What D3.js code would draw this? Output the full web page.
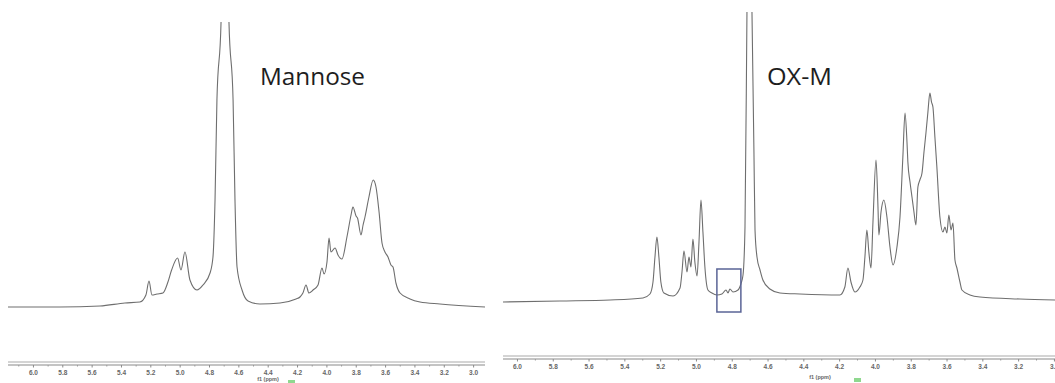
<!DOCTYPE html>
<html>
<head>
<meta charset="utf-8">
<script src="https://cdn.jsdelivr.net/npm/d3@7"></script>
<style>
  html, body { margin: 0; padding: 0; background: #fff; }
  svg { display: block; }
</style>
</head>
<body>
<svg id="chart" width="1055" height="383"></svg>
<script>
// ---- data: [ppm, relative intensity] ----
const mannoseSpectrum = [
  [6.170,0],[5.816,0],[5.543,1],[5.373,4],[5.271,5],[5.230,12],[5.209,26],[5.189,12],
  [5.155,13],[5.114,14],[5.080,25],[5.055,37],[5.014,49],[4.991,37],[4.964,55],[4.930,27],
  [4.882,17],[4.841,22],[4.793,34],[4.773,50],[4.759,107],[4.746,207],[4.718,285],[4.705,400],
  [4.691,500],[4.678,400],[4.664,285],[4.636,207],[4.623,107],[4.609,40],[4.575,17],[4.534,6],
  [4.453,3],[4.316,4],[4.207,8],[4.180,10],[4.160,14],[4.139,22],[4.119,14],[4.091,17],
  [4.057,22],[4.030,39],[4.016,33],[3.996,45],[3.982,69],[3.969,55],[3.941,59],[3.921,52],
  [3.894,48],[3.860,70],[3.832,92],[3.819,100],[3.798,91],[3.788,89],[3.764,72],[3.750,82],
  [3.737,90],[3.710,110],[3.681,127],[3.662,120],[3.641,95],[3.621,64],[3.601,55],[3.580,50],
  [3.560,42],[3.546,40],[3.526,24],[3.498,14],[3.430,8],[3.362,5],[3.226,3],[2.919,0]
];
const oxmSpectrum = [
  [6.078,0],[5.760,1],[5.480,2],[5.296,4],[5.257,8],[5.240,20],[5.229,45],[5.218,65],
  [5.207,45],[5.196,20],[5.179,9],[5.128,6],[5.089,14],[5.078,30],[5.067,51],[5.050,30],
  [5.039,45],[5.028,35],[5.017,63],[5.006,40],[4.994,26],[4.983,60],[4.972,102],[4.961,70],
  [4.950,35],[4.933,12],[4.911,9],[4.883,7],[4.855,8],[4.832,12],[4.821,9],[4.810,13],
  [4.793,10],[4.765,12],[4.749,18],[4.737,27],[4.726,75],[4.715,290],[4.704,500],[4.687,290],
  [4.676,150],[4.670,72],[4.659,45],[4.642,32],[4.626,22],[4.587,13],[4.531,9],[4.419,8],
  [4.196,7],[4.168,15],[4.151,34],[4.134,20],[4.112,10],[4.084,15],[4.067,22],[4.056,45],
  [4.045,72],[4.034,50],[4.022,34],[4.011,80],[3.994,142],[3.983,95],[3.978,67],[3.966,90],
  [3.950,102],[3.933,85],[3.916,55],[3.899,37],[3.877,55],[3.860,85],[3.844,145],[3.832,189],
  [3.821,160],[3.816,140],[3.804,120],[3.793,105],[3.782,90],[3.771,77],[3.760,115],[3.749,122],
  [3.737,129],[3.726,150],[3.715,169],[3.704,190],[3.693,209],[3.684,200],[3.676,195],[3.665,165],
  [3.654,135],[3.637,85],[3.620,70],[3.609,75],[3.598,69],[3.587,87],[3.575,72],[3.564,79],
  [3.553,42],[3.542,34],[3.525,20],[3.514,12],[3.469,7],[3.413,5],[3.190,3],[2.994,2]
];
const majorTicks = [6.0,5.8,5.6,5.4,5.2,5.0,4.8,4.6,4.4,4.2,4.0,3.8,3.6,3.4,3.2,3.0];
const minorTicks = [5.9,5.7,5.5,5.3,5.1,4.9,4.7,4.5,4.3,4.1,3.9,3.7,3.5,3.3,3.1,6.1];
const panelTitles = ["Mannose", "OX-M"];
const axisTitle = "f1 (ppm)";
const highlightBox = { ppm: [4.883, 4.749], intensity: [33, -10] };

// ---- layout ----
const svg = d3.select("#chart");
const panels = [
  { data: mannoseSpectrum, title: panelTitles[0],
    xDomain: [6.17, 2.919], xRange: [8, 485],
    yDomain: [0, 285], yRange: [307, 22], clipTop: 22,
    axisY: 365, titleX: 260, titleW: 105, f1X: 268, f1Y: 381, greenX: 288 },
  { data: oxmSpectrum, title: panelTitles[1],
    xDomain: [6.078, 2.994], xRange: [503, 1055],
    yDomain: [0, 290], yRange: [302, 12], clipTop: 12,
    axisY: 359, titleX: 767, titleW: 65, f1X: 820, f1Y: 379, greenX: 854 }
];

panels.forEach((p, i) => {
  const x = d3.scaleLinear().domain(p.xDomain).range(p.xRange);
  const y = d3.scaleLinear().domain(p.yDomain).range(p.yRange);
  const g = svg.append("g");

  g.append("clipPath").attr("id", "clip" + i)
    .append("rect")
    .attr("x", p.xRange[0] - 2).attr("y", p.clipTop)
    .attr("width", p.xRange[1] - p.xRange[0] + 4)
    .attr("height", p.axisY - p.clipTop - 8);

  const line = d3.line()
    .x(d => x(d[0])).y(d => y(d[1]))
    .curve(d3.curveMonotoneX);

  g.append("path")
    .datum(p.data.slice().sort((a, b) => b[0] - a[0]))
    .attr("clip-path", "url(#clip" + i + ")")
    .attr("fill", "none")
    .attr("stroke", "#6e6e6e")
    .attr("stroke-width", 1.1)
    .attr("d", line);

  // title
  g.append("text")
    .attr("x", p.titleX).attr("y", 85)
    .attr("textLength", p.titleW).attr("lengthAdjust", "spacingAndGlyphs")
    .style("font-family", "'Open Sans', 'Liberation Sans', sans-serif")
    .style("font-size", "23px")
    .attr("fill", "#1e1e1e")
    .text(p.title);

  // light band above the axis
  g.append("line")
    .attr("x1", p.xRange[0]).attr("x2", p.xRange[1])
    .attr("y1", p.axisY - 3).attr("y2", p.axisY - 3)
    .attr("stroke", "#d4d4d4").attr("stroke-width", 2);

  // axis (major ticks with labels)
  const axis = d3.axisBottom(x)
    .tickValues(majorTicks)
    .tickSize(2.5)
    .tickPadding(3)
    .tickFormat(d3.format(".1f"));
  const ag = g.append("g")
    .attr("transform", "translate(0," + p.axisY + ")")
    .call(axis);
  ag.select(".domain")
    .attr("d", "M" + p.xRange[0] + ",0H" + p.xRange[1])
    .attr("stroke", "#8a8a8a").attr("stroke-width", 1.2);
  ag.selectAll(".tick line").attr("stroke", "#8a8a8a");
  ag.selectAll(".tick text")
    .attr("fill", "#666")
    .style("font-family", "'Liberation Sans', Arial, sans-serif")
    .style("font-size", "6.5px")
    .style("font-weight", "bold");

  // minor ticks
  const mg = g.append("g")
    .attr("transform", "translate(0," + p.axisY + ")")
    .call(d3.axisBottom(x).tickValues(minorTicks.filter(v => x(v) > p.xRange[0] && x(v) < p.xRange[1]))
      .tickSize(1.5).tickFormat(""));
  mg.select(".domain").remove();
  mg.selectAll(".tick line").attr("stroke", "#9a9a9a");

  // axis title
  g.append("text")
    .attr("x", p.f1X).attr("y", p.f1Y)
    .attr("text-anchor", "middle")
    .style("font-family", "'Liberation Sans', Arial, sans-serif")
    .style("font-size", "5.5px")
    .style("font-weight", "bold")
    .attr("fill", "#666")
    .text(axisTitle);

  // small green marker next to axis title
  g.append("rect")
    .attr("x", p.greenX).attr("y", p.f1Y - 1)
    .attr("width", 7).attr("height", 4)
    .attr("fill", "#8fd88f");

  if (i === 1) {
    g.append("rect")
      .attr("x", x(highlightBox.ppm[0]))
      .attr("y", y(highlightBox.intensity[0]))
      .attr("width", x(highlightBox.ppm[1]) - x(highlightBox.ppm[0]))
      .attr("height", y(highlightBox.intensity[1]) - y(highlightBox.intensity[0]))
      .attr("fill", "none")
      .attr("stroke", "#5a6496")
      .attr("stroke-width", 1.5);
  }
});
</script>
</body>
</html>
